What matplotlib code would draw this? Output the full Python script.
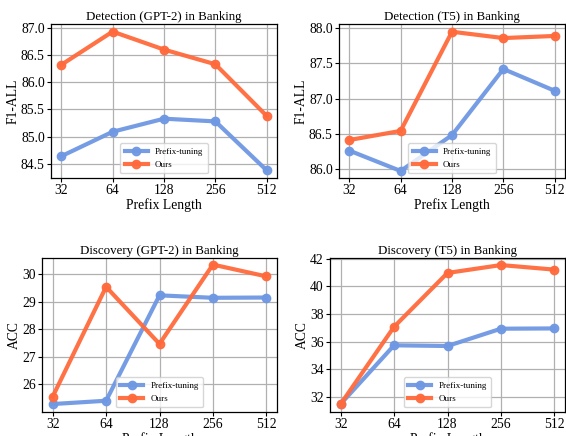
import matplotlib
matplotlib.use("Agg")
import matplotlib.pyplot as plt

plt.rcParams['font.family'] = ['Liberation Serif', 'DejaVu Serif']
plt.rcParams['mathtext.fontset'] = 'stix'

prefix_lengths = ["32", "64", "128", "256", "512"]

det_gpt2_prefix = [84.64, 85.09, 85.33, 85.28, 84.38]
det_gpt2_ours = [86.32, 86.93, 86.60, 86.33, 85.38]

det_t5_prefix = [86.26, 85.97, 86.48, 87.42, 87.11]
det_t5_ours = [86.41, 86.54, 87.95, 87.86, 87.89]

disc_gpt2_prefix = [25.27, 25.39, 29.23, 29.14, 29.15]
disc_gpt2_ours = [25.54, 29.54, 27.46, 30.35, 29.92]

disc_t5_prefix = [31.50, 35.74, 35.69, 36.94, 36.96]
disc_t5_ours = [31.50, 37.08, 40.97, 41.54, 41.21]

titles = ["Detection (GPT-2) in Banking", "Detection (T5) in Banking",
          "Discovery (GPT-2) in Banking", "Discovery (T5) in Banking"]
ylabels = ["F1-ALL", "F1-ALL", "ACC", "ACC"]
series = [(det_gpt2_prefix, det_gpt2_ours), (det_t5_prefix, det_t5_ours),
          (disc_gpt2_prefix, disc_gpt2_ours), (disc_t5_prefix, disc_t5_ours)]
yticks = [[84.5, 85.0, 85.5, 86.0, 86.5, 87.0],
          [86.0, 86.5, 87.0, 87.5, 88.0],
          [26, 27, 28, 29, 30],
          [32, 34, 36, 38, 40, 42]]
ylims = [(84.24, 87.07), (85.87, 88.06), (24.98, 30.59), (30.92, 42.05)]
yfmt = ["{:.1f}", "{:.1f}", "{:d}", "{:d}"]

W, H = 566, 436
# axes boxes in pixels: left, right, top, bottom
boxes = [(51, 277, 24, 178), (339, 565, 24, 178),
         (42, 277, 258, 412), (330, 565, 258, 412)]

BLUE = '#6f98e3'
ORANGE = '#ff6a3c'

fig = plt.figure(figsize=(W / 100, H / 100), dpi=100)
for i in range(4):
    l, r, t, b = boxes[i]
    ax = fig.add_axes([l / W, 1 - b / H, (r - l) / W, (b - t) / H])
    x = list(range(len(prefix_lengths)))
    p, o = series[i]
    ax.plot(x, p, color=BLUE, lw=3, marker='o', ms=6, label='Prefix-tuning', alpha=0.95)
    ax.plot(x, o, color=ORANGE, lw=3, marker='o', ms=6, label='Ours', alpha=0.95)
    ax.set_xticks(x)
    ax.set_xticklabels(prefix_lengths)
    ax.set_yticks(yticks[i])
    ax.set_yticklabels([yfmt[i].format(v) for v in yticks[i]])
    ax.set_ylim(*ylims[i])
    ax.set_xlim(-0.2, 4.2)
    ax.grid(True, color='#b0b0b0', lw=0.9)
    ax.set_axisbelow(True)
    ax.tick_params(labelsize=9.8, length=3, width=0.8, pad=1.5)
    ax.set_title(titles[i], fontsize=9.3, pad=3)
    ax.set_ylabel(ylabels[i], fontsize=9.8, labelpad=1)
    ax.set_xlabel("Prefix Length", fontsize=9.8, labelpad=1)
    leg = ax.legend(loc='lower center', fontsize=6.5, framealpha=0.8,
                    handlelength=2.5, borderpad=0.5)
    for sp in ax.spines.values():
        sp.set_linewidth(0.9)

fig.savefig("out.png", dpi=100)
